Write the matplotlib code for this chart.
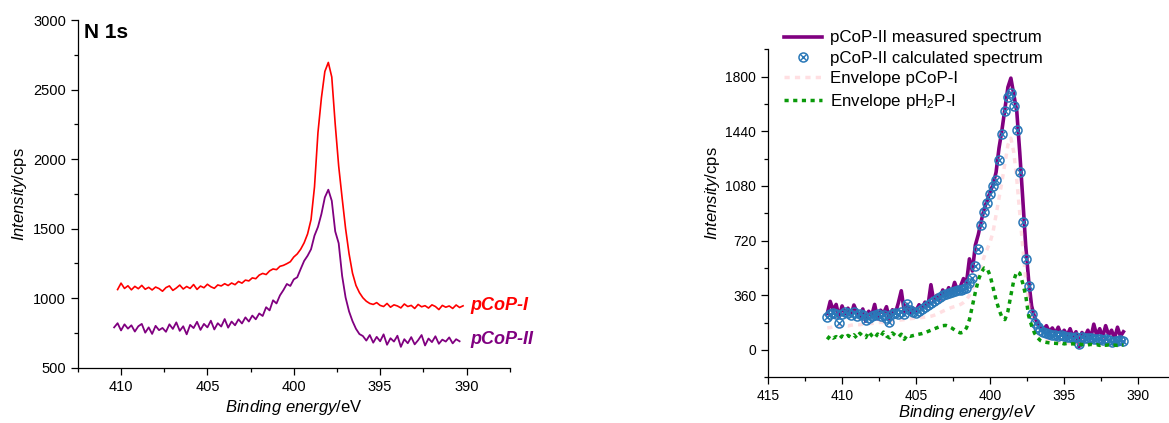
import numpy as np
import matplotlib
matplotlib.use('Agg')
import matplotlib.pyplot as plt
from matplotlib.ticker import MultipleLocator
from matplotlib.legend_handler import HandlerTuple

plt.rcParams['font.family'] = ['Liberation Sans', 'DejaVu Sans']
plt.rcParams['mathtext.fontset'] = 'custom'
plt.rcParams['mathtext.rm'] = 'Liberation Sans'
plt.rcParams['mathtext.it'] = 'Liberation Sans:italic'
plt.rcParams['mathtext.bf'] = 'Liberation Sans:bold'

# left panel: N 1s spectra, 0.2 eV steps
# pCoP-I from 410.2 down to 390.2 eV
pcop1 = [1062, 1108, 1070, 1089, 1060, 1085, 1068, 1092, 1064, 1078,
         1059, 1080, 1069, 1050, 1076, 1088, 1056, 1073, 1094, 1066,
         1084, 1070, 1098, 1063, 1087, 1075, 1100, 1082, 1071, 1095,
         1088, 1104, 1091, 1109, 1097, 1120, 1108, 1130, 1124, 1146,
         1140, 1166, 1178, 1170, 1196, 1210, 1205, 1229, 1236, 1248,
         1262, 1296, 1318, 1352, 1398, 1462, 1565, 1800, 2190, 2440,
         2630, 2695, 2590, 2250, 1950, 1720, 1500, 1320, 1180, 1092,
         1040, 1003, 978, 962, 955, 968, 948, 940, 962, 935,
         952, 944, 930, 958, 940, 948, 926, 955, 938, 946,
         929, 952, 940, 918, 948, 935, 944, 926, 951, 933,
         945]
# pCoP-II from 410.4 down to 390.4 eV
pcop2 = [790, 820, 768, 812, 781, 805, 760, 798, 815, 752,
         790, 743, 801, 770, 786, 758, 812, 779, 826, 765,
         798, 740, 808, 785, 830, 772, 815, 790, 838, 775,
         820, 796, 850, 788, 832, 805, 848, 818, 862, 832,
         875, 848, 890, 872, 935, 912, 985, 962, 1020, 1058,
         1102, 1088, 1135, 1150, 1210, 1268, 1305, 1352, 1450, 1512,
         1605, 1725, 1780, 1700, 1480, 1395, 1160, 1005, 905, 835,
         780, 742, 728, 695, 735, 680, 722, 690, 740, 665,
         712, 688, 730, 650, 705, 676, 720, 668, 698, 735,
         660, 710, 684, 726, 672, 702, 688, 718, 675, 705,
         690]

# right panel: pCoP-II fit, 411.0 down to 391.0 eV
measured = [240, 320, 262, 300, 215, 290, 238, 275, 228, 296,
            250, 212, 270, 190, 255, 226, 300, 205, 262, 240,
            285, 198, 265, 242, 310, 390, 255, 300, 238, 275,
            260, 298, 270, 315, 290, 430, 318, 360, 335, 395,
            360, 410, 375, 445, 390, 420, 470, 440, 600, 520,
            690, 760, 850, 930, 985, 1040, 1090, 1170, 1330, 1450,
            1590, 1730, 1790, 1680, 1570, 1300, 1000, 690, 460, 290,
            215, 180, 150, 135, 160, 120, 145, 110, 150, 100,
            130, 95, 140, 85, 120, 20, 115, 90, 130, 80,
            170, 95, 140, 85, 160, 100, 130, 75, 150, 90,
            120]
calculated = [215, 235, 245, 240, 180, 238, 250, 245, 232, 250,
              226, 240, 228, 200, 208, 222, 230, 240, 226, 232,
              210, 186, 236, 244, 240, 248, 236, 302, 262, 250,
              246, 255, 268, 282, 296, 310, 322, 338, 350, 362,
              370, 378, 385, 390, 392, 395, 400, 410, 440, 475,
              550, 665, 820, 910, 970, 1030, 1078, 1120, 1250, 1420,
              1575, 1665, 1690, 1605, 1450, 1170, 840, 600, 420, 240,
              175, 150, 132, 120, 112, 105, 100, 96, 92, 98,
              90, 88, 85, 82, 86, 40, 84, 80, 76, 78,
              74, 70, 72, 66, 70, 64, 55, 62, 58, 64,
              60]
env_pcop = [145, 148, 152, 150, 155, 158, 160, 158, 163, 166,
            168, 166, 170, 172, 175, 174, 178, 180, 182, 181,
            185, 188, 190, 192, 195, 198, 200, 203, 206, 208,
            210, 212, 214, 216, 218, 222, 228, 236, 245, 255,
            264, 272, 280, 286, 292, 300, 312, 330, 360, 400,
            445, 500, 560, 615, 665, 710, 780, 890, 1000, 1110,
            1230, 1350, 1395, 1300, 1120, 900, 680, 470, 320, 210,
            150, 115, 92, 78, 68, 62, 58, 55, 52, 50,
            48, 47, 46, 45, 44, 43, 42, 42, 41, 40,
            40, 39, 39, 38, 38, 37, 37, 36, 36, 35,
            35]
env_ph2p = [70, 95, 78, 88, 72, 92, 80, 96, 84, 100,
            78, 110, 90, 82, 120, 95, 78, 105, 88, 118,
            92, 80, 112, 96, 85, 104, 70, 98, 90, 95,
            100, 104, 108, 114, 122, 130, 138, 146, 154, 160,
            162, 155, 145, 132, 120, 112, 118, 145, 200, 290,
            380, 460, 510, 540, 535, 490, 410, 330, 265, 215,
            200, 255, 360, 460, 515, 505, 440, 360, 225, 160,
            110, 80, 62, 54, 50, 47, 45, 44, 42, 46,
            40, 43, 38, 41, 36, 40, 35, 38, 33, 37,
            32, 35, 30, 34, 31, 33, 29, 32, 30, 31,
            33]

e_pcop1 = np.linspace(410.2, 390.2, len(pcop1))
e_pcop2 = np.linspace(410.4, 390.4, len(pcop2))
e_fit = np.linspace(411.0, 391.0, len(measured))

RED = '#ff0000'
PURPLE = '#800080'
BLUE = '#2a78b8'
GREEN = '#0a9a0a'
PINK = '#ffb0b8'


def style_axis(ax):
    for side in ('top', 'right'):
        ax.spines[side].set_visible(False)
    for side in ('left', 'bottom'):
        ax.spines[side].set_linewidth(0.9)
    ax.tick_params(which='major', direction='out', length=5, width=0.9,
                   labelsize=10.5)
    ax.tick_params(which='minor', direction='out', length=3, width=0.9)


fig = plt.figure(figsize=(11.69, 4.23), dpi=100)

# left panel
ax1 = fig.add_axes([0.0666, 0.1307, 0.3694, 0.822])
ax1.plot(e_pcop1, pcop1, color=RED, lw=1.2)
ax1.plot(e_pcop2, pcop2, color=PURPLE, lw=1.3)
ax1.set_xlim(412.5, 387.5)
ax1.set_ylim(500, 3000)
ax1.xaxis.set_major_locator(MultipleLocator(5))
ax1.xaxis.set_minor_locator(MultipleLocator(2.5))
ax1.yaxis.set_major_locator(MultipleLocator(500))
ax1.yaxis.set_minor_locator(MultipleLocator(250))
style_axis(ax1)
ax1.set_xlabel(r'$\mathit{Binding\ energy}$/eV', fontsize=12, labelpad=3)
ax1.set_ylabel(r'$\mathit{Intensity}$/cps', fontsize=12, labelpad=3)
ax1.text(0.014, 0.965, 'N 1s', transform=ax1.transAxes, fontsize=15,
         fontweight='bold', va='center', ha='left')
ax1.text(0.91, 0.18, 'pCoP-I', transform=ax1.transAxes, fontsize=13,
         fontweight='bold', fontstyle='italic', color=RED, va='center')
ax1.text(0.91, 0.08, 'pCoP-II', transform=ax1.transAxes, fontsize=13,
         fontweight='bold', fontstyle='italic', color=PURPLE, va='center')

# right panel
ax2 = fig.add_axes([0.657, 0.108, 0.342, 0.7755])
l_meas, = ax2.plot(e_fit, measured, color=PURPLE, lw=2.6, zorder=2)
c_o, = ax2.plot(e_fit, calculated, ls='none', marker='o', ms=6.5,
                mfc='none', mec=BLUE, mew=1.1, zorder=4)
c_x, = ax2.plot(e_fit, calculated, ls='none', marker='x', ms=3.8,
                mec=BLUE, mew=1.0, zorder=4)
l_pink, = ax2.plot(e_fit, env_pcop, color=PINK, lw=2.5, alpha=0.4,
                   ls=(0, (1.5, 1.5)), zorder=3)
l_green, = ax2.plot(e_fit, env_ph2p, color=GREEN, lw=2.5,
                    ls=(0, (1.2, 1.3)), zorder=5)
ax2.set_xlim(415, 388)
ax2.set_ylim(-180, 1980)
ax2.xaxis.set_major_locator(MultipleLocator(5))
ax2.xaxis.set_minor_locator(MultipleLocator(2.5))
ax2.set_yticks([0, 360, 720, 1080, 1440, 1800])
ax2.yaxis.set_minor_locator(MultipleLocator(180))
style_axis(ax2)
ax2.tick_params(labelsize=10)
ax2.set_xlabel(r'$\mathit{Binding\ energy/eV}$', fontsize=12, labelpad=0)
ax2.set_ylabel(r'$\mathit{Intensity}$/cps', fontsize=12)
ax2.yaxis.set_label_coords(-0.115, 0.56)

ax2.legend([l_meas, (c_o, c_x), l_pink, l_green],
           ['pCoP-II measured spectrum', 'pCoP-II calculated spectrum',
            'Envelope pCoP-I', 'Envelope pH$_2$P-I'],
           handler_map={tuple: HandlerTuple(ndivide=1)},
           loc='upper left', bbox_to_anchor=(0.671, 0.928),
           bbox_transform=fig.transFigure, frameon=False, fontsize=12.2,
           handlelength=2.2, handletextpad=0.5, labelspacing=0.32,
           borderpad=0, borderaxespad=0)

fig.savefig('out.png', dpi=100)
